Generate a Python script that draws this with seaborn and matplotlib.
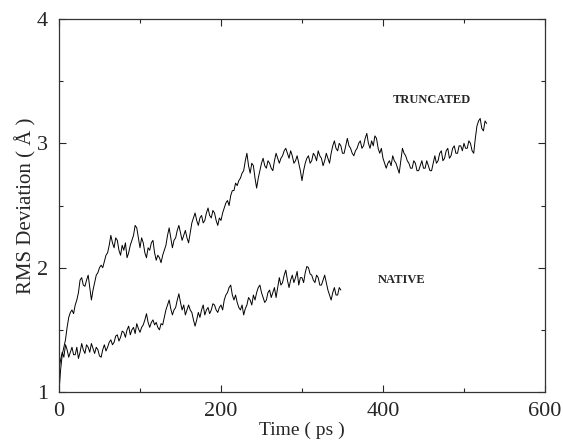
import numpy as np
import pandas as pd
import seaborn as sns
import matplotlib
matplotlib.use("Agg")
import matplotlib.pyplot as plt

# RMS deviation, one value every 2 ps
step_ps = 2

truncated_rms = [
    1.00, 1.18, 1.30, 1.36, 1.42, 1.52, 1.60, 1.64, 1.66, 1.63,
    1.70, 1.74, 1.80, 1.90, 1.92, 1.86, 1.85, 1.90, 1.94, 1.84,
    1.74, 1.82, 1.88, 1.94, 1.96, 2.00, 2.02, 2.00, 2.05, 2.10,
    2.12, 2.18, 2.26, 2.20, 2.16, 2.24, 2.22, 2.14, 2.10, 2.18,
    2.14, 2.20, 2.08, 2.12, 2.18, 2.22, 2.26, 2.34, 2.32, 2.24,
    2.16, 2.24, 2.20, 2.12, 2.08, 2.16, 2.14, 2.20, 2.22, 2.12,
    2.06, 2.10, 2.08, 2.04, 2.10, 2.14, 2.18, 2.26, 2.32, 2.24,
    2.16, 2.22, 2.24, 2.30, 2.34, 2.28, 2.22, 2.26, 2.30, 2.24,
    2.20, 2.28, 2.36, 2.40, 2.44, 2.38, 2.34, 2.40, 2.42, 2.36,
    2.38, 2.44, 2.48, 2.42, 2.40, 2.46, 2.44, 2.38, 2.34, 2.40,
    2.38, 2.44, 2.48, 2.52, 2.54, 2.50, 2.58, 2.62, 2.62, 2.68,
    2.66, 2.70, 2.72, 2.76, 2.78, 2.86, 2.92, 2.82, 2.76, 2.84,
    2.82, 2.72, 2.64, 2.72, 2.78, 2.84, 2.88, 2.82, 2.80, 2.86,
    2.84, 2.80, 2.78, 2.86, 2.92, 2.88, 2.84, 2.88, 2.90, 2.94,
    2.96, 2.92, 2.88, 2.94, 2.90, 2.84, 2.86, 2.90, 2.84, 2.78,
    2.70, 2.78, 2.84, 2.88, 2.90, 2.84, 2.86, 2.92, 2.90, 2.86,
    2.94, 2.90, 2.88, 2.82, 2.86, 2.92, 2.88, 2.84, 2.92, 2.98,
    3.02, 2.96, 2.94, 3.00, 2.98, 2.92, 2.92, 2.98, 3.04, 2.98,
    2.96, 2.92, 2.90, 2.94, 2.96, 3.00, 3.02, 2.96, 2.98, 3.04,
    3.08, 3.00, 2.96, 3.02, 2.98, 3.06, 3.04, 2.96, 2.92, 2.96,
    2.88, 2.84, 2.80, 2.84, 2.86, 2.82, 2.90, 2.86, 2.84, 2.80,
    2.76, 2.86, 2.96, 2.92, 2.90, 2.86, 2.84, 2.80, 2.80, 2.86,
    2.84, 2.78, 2.78, 2.82, 2.86, 2.80, 2.80, 2.86, 2.82, 2.78,
    2.78, 2.84, 2.90, 2.84, 2.86, 2.92, 2.94, 2.86, 2.88, 2.94,
    2.96, 2.88, 2.90, 2.96, 2.98, 2.92, 2.92, 2.98, 2.98, 2.94,
    3.00, 2.96, 2.96, 3.02, 3.00, 2.94, 2.92, 3.04, 3.14, 3.18,
    3.20, 3.12, 3.10, 3.18, 3.16,
]

native_rms = [
    1.18, 1.26, 1.32, 1.28, 1.38, 1.34, 1.28, 1.32, 1.36, 1.30,
    1.30, 1.36, 1.27, 1.32, 1.39, 1.34, 1.31, 1.38, 1.36, 1.32,
    1.39, 1.35, 1.31, 1.36, 1.34, 1.29, 1.28, 1.34, 1.38, 1.33,
    1.36, 1.40, 1.42, 1.38, 1.40, 1.45, 1.46, 1.41, 1.44, 1.49,
    1.48, 1.44, 1.50, 1.53, 1.46, 1.50, 1.52, 1.47, 1.55, 1.51,
    1.48, 1.52, 1.54, 1.58, 1.63, 1.56, 1.52, 1.56, 1.58, 1.54,
    1.56, 1.52, 1.50, 1.55, 1.54, 1.60, 1.66, 1.70, 1.74, 1.67,
    1.62, 1.66, 1.68, 1.74, 1.79, 1.72, 1.66, 1.70, 1.62, 1.66,
    1.70, 1.66, 1.64, 1.58, 1.53, 1.58, 1.64, 1.60, 1.66, 1.70,
    1.62, 1.66, 1.68, 1.63, 1.66, 1.71, 1.70, 1.66, 1.64, 1.68,
    1.70, 1.66, 1.74, 1.78, 1.80, 1.84, 1.86, 1.78, 1.74, 1.78,
    1.72, 1.68, 1.66, 1.70, 1.62, 1.67, 1.70, 1.76, 1.74, 1.70,
    1.78, 1.74, 1.80, 1.84, 1.86, 1.80, 1.76, 1.72, 1.74, 1.80,
    1.82, 1.76, 1.80, 1.84, 1.76, 1.84, 1.92, 1.86, 1.88, 1.94,
    1.98, 1.90, 1.84, 1.90, 1.94, 1.88, 1.92, 1.97, 1.86, 1.92,
    1.92, 1.88, 1.96, 2.01, 2.00, 1.95, 1.94, 1.90, 1.88, 1.94,
    1.92, 1.86, 1.86, 1.90, 1.94, 1.88, 1.82, 1.78, 1.74, 1.80,
    1.84, 1.78, 1.78, 1.84, 1.82,
]

truncated = pd.DataFrame({"time": np.arange(len(truncated_rms)) * step_ps,
                          "rms": truncated_rms})
native = pd.DataFrame({"time": np.arange(len(native_rms)) * step_ps,
                       "rms": native_rms})

sns.set_style("ticks")
plt.rcParams["font.family"] = ["Liberation Serif", "DejaVu Serif"]

fig = plt.figure(figsize=(5.63, 4.47), dpi=100)
ax = fig.add_axes([0.1048, 0.123, 0.8632, 0.8345])

sns.lineplot(data=truncated, x="time", y="rms", color="black", linewidth=0.7, ax=ax)
sns.lineplot(data=native, x="time", y="rms", color="black", linewidth=0.7, ax=ax)

ax.text(412, 3.35, "TRUNCATED", fontsize=9, fontweight="bold", va="center")
ax.text(393, 1.90, "NATIVE", fontsize=9, fontweight="bold", va="center")

ax.set_xlim(0, 600)
ax.set_ylim(1, 4)
ax.set_xticks([0, 200, 400, 600])
ax.set_xticks([100, 300, 500], minor=True)
ax.set_yticks([1, 2, 3, 4])
ax.set_yticks([1.5, 2.5, 3.5], minor=True)
ax.tick_params(which="both", direction="in", top=True, right=True, labelsize=16)
ax.tick_params(axis="y", which="major", pad=8)
ax.tick_params(axis="x", which="major", pad=7)
ax.tick_params(which="major", length=5, width=0.8)
ax.tick_params(which="minor", length=3, width=0.8)
for s in ax.spines.values():
    s.set_linewidth(0.9)
    s.set_color("#333333")

ax.set_xlabel("Time ( ps )", fontsize=14, labelpad=1)
ax.set_ylabel("RMS Deviation ( Å )", fontsize=15, labelpad=0)

fig.savefig("out.png", dpi=100)
